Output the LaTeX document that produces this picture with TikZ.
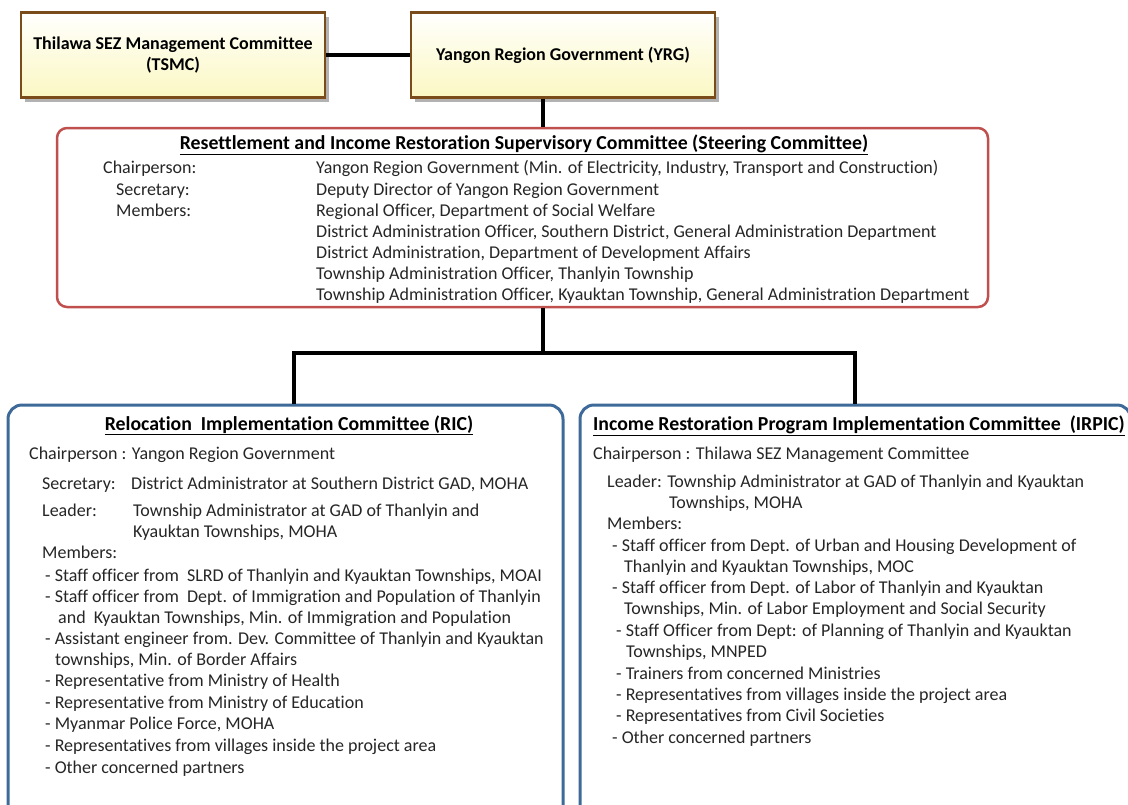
\documentclass[tikz,border=0pt]{standalone}
\usepackage{fontspec}
\setmainfont{Carlito}[Ligatures=NoCommon]
\usetikzlibrary{shadows,calc}
\definecolor{brownb}{RGB}{121,76,26}
\definecolor{redb}{RGB}{192,80,77}
\definecolor{blueb}{RGB}{62,106,154}
\definecolor{yelb}{RGB}{251,248,196}
\definecolor{txtc}{RGB}{38,38,38}
\begin{document}
\begin{tikzpicture}[x=1pt,y=-1pt,
  topbox/.style={draw=brownb, line width=2.5pt, minimum width=304pt, minimum height=85pt,
    top color=white, bottom color=yelb, middle color=yelb!55!white,
    drop shadow={shadow xshift=4pt, shadow yshift=-4pt, fill=gray!60, opacity=1},
    font=\bfseries\fontsize{18}{21}\selectfont, align=center, inner sep=0pt, text=black},
  steerbox/.style={draw=redb, line width=2.5pt, rounded corners=10pt, fill=white, inner sep=0pt},
  combox/.style={draw=blueb, line width=3pt, rounded corners=14pt, fill=white, inner sep=0pt},
  conn/.style={draw=black, line width=4pt},
  tx/.style={anchor=west, inner sep=0pt, text height=15pt, text depth=3pt, text=txtc,
    font=\fontsize{18}{21}\selectfont},
  ttl/.style={anchor=center, inner sep=0pt, text height=15pt, text depth=3pt, text=black,
    font=\bfseries\fontsize{19.8}{23}\selectfont}
]
\path[use as bounding box] (0,0) rectangle (1128,804);
\clip (0,0) rectangle (1128,804);

% boxes
\node[topbox] (tsmc) at (173,55) {Thilawa SEZ Management Committee\\(TSMC)};
\node[topbox] (yrg) at (563,55) {Yangon Region Government (YRG)};
\node[steerbox, minimum width=931pt, minimum height=179pt] (steer) at (522.5,217.5) {};
\node[combox, minimum width=555pt, minimum height=440pt] (ric) at (285.5,625) {};
\node[combox, minimum width=551pt, minimum height=440pt] (irpic) at (855.5,625) {};

% connectors
\coordinate (trunk) at (543,0);
\coordinate (mb) at (543,353);
\coordinate (lb) at (294,353);
\coordinate (rb) at (855,353);
\draw[conn] (tsmc.east) -- (yrg.west);
\draw[conn] (yrg.south -| trunk) -- (steer.north -| trunk);
\draw[conn] (steer.south -| mb) -- (mb);
\draw[conn, line join=miter] (ric.north -| lb) -- (lb) -- (rb) -- (irpic.north -| rb);

% steering committee text
\node[ttl] (st) at (524,143) {\underline{Resettlement and Income Restoration Supervisory Committee (Steering Committee)}};
\node[tx] (s1) at (103,167) {Chairperson:};
\node[tx] (s2) at (116,189) {Secretary:};
\node[tx] (s3) at (116,210) {Members:};
\node[tx] (r1) at (316,167) {Yangon Region Government (Min. of Electricity, Industry, Transport and Construction)};
\node[tx] (r2) at (316,189) {Deputy Director of Yangon Region Government};
\node[tx] (r3) at (316,210) {Regional Officer, Department of Social Welfare};
\node[tx] (r4) at (316,231) {District Administration Officer, Southern District, General Administration Department};
\node[tx] (r5) at (316,252) {District Administration, Department of Development Affairs};
\node[tx] (r6) at (316,273) {Township Administration Officer, Thanlyin Township};
\node[tx] (r7) at (316,294) {Township Administration Officer, Kyauktan Township, General Administration Department};

% RIC text
\node[ttl] (lt) at (289,424) {\underline{Relocation\ \ Implementation Committee (RIC)}};
\node[tx] (l1) at (29,453) {Chairperson : Yangon Region Government};
\node[tx] (l2) at (42,483) {Secretary:};
\node[tx] (l2b) at (131,483) {District Administrator at Southern District GAD, MOHA};
\node[tx] (l3) at (42,510) {Leader:};
\node[tx] (l3b) at (133,510) {Township Administrator at GAD of Thanlyin and};
\node[tx] (l3c) at (133,531) {Kyauktan Townships, MOHA};
\node[tx] (l4) at (42,552) {Members:};
\node[tx] (m1) at (45,575) {- Staff officer from\ \ SLRD of Thanlyin and Kyauktan Townships, MOAI};
\node[tx] (m2) at (45,596) {- Staff officer from\ \ Dept. of Immigration and Population of Thanlyin};
\node[tx] (m2b) at (58,617) {and\ \ Kyauktan Townships, Min. of Immigration and Population};
\node[tx] (m3) at (45,638) {- Assistant engineer from. Dev. Committee of Thanlyin and Kyauktan};
\node[tx] (m3b) at (55,659) {townships, Min. of Border Affairs};
\node[tx] (m4) at (45,680) {- Representative from Ministry of Health};
\node[tx] (m5) at (45,702) {- Representative from Ministry of Education};
\node[tx] (m6) at (45,723) {- Myanmar Police Force, MOHA};
\node[tx] (m7) at (45,745) {- Representatives from villages inside the project area};
\node[tx] (m8) at (45,767) {- Other concerned partners};

% IRPIC text
\node[ttl, anchor=west] (rt) at (593,424) {\underline{Income Restoration Program Implementation Committee\ \ (IRPIC)}};
\node[tx] (p1) at (593,453) {Chairperson : Thilawa SEZ Management Committee};
\node[tx] (p2) at (607,481) {Leader: Township Administrator at GAD of Thanlyin and Kyauktan};
\node[tx] (p2b) at (669,502) {Townships, MOHA};
\node[tx] (p3) at (607,523) {Members:};
\node[tx] (n1) at (612,545) {- Staff officer from Dept. of Urban and Housing Development of};
\node[tx] (n1b) at (624,566) {Thanlyin and Kyauktan Townships, MOC};
\node[tx] (n2) at (612,587) {- Staff officer from Dept. of Labor of Thanlyin and Kyauktan};
\node[tx] (n2b) at (624,608) {Townships, Min. of Labor Employment and Social Security};
\node[tx] (n3) at (616,630) {- Staff Officer from Dept: of Planning of Thanlyin and Kyauktan};
\node[tx] (n3b) at (626,651) {Townships, MNPED};
\node[tx] (n4) at (616,673) {- Trainers from concerned Ministries};
\node[tx] (n5) at (616,694) {- Representatives from villages inside the project area};
\node[tx] (n6) at (616,715) {- Representatives from Civil Societies};
\node[tx] (n7) at (612,737) {- Other concerned partners};
\end{tikzpicture}
\end{document}
